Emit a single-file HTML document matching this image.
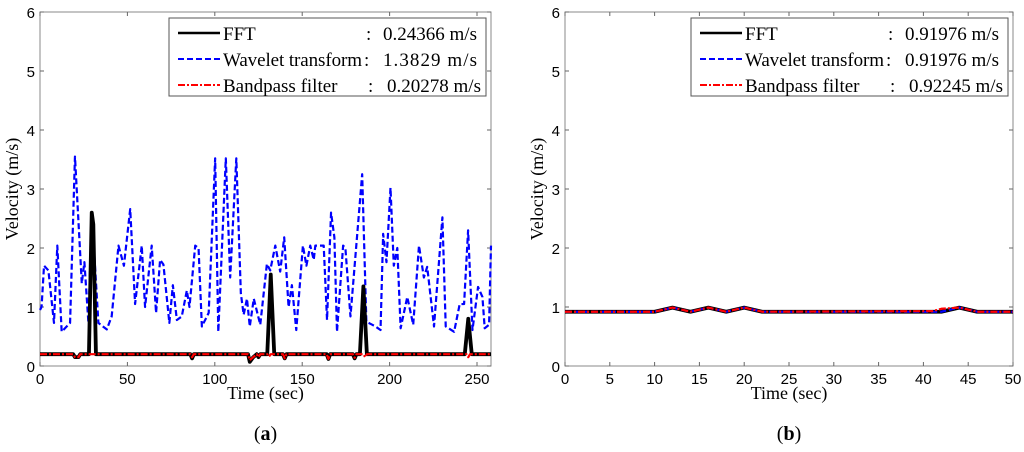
<!DOCTYPE html>
<html><head><meta charset="utf-8"><style>
body{margin:0;background:#fff;width:1024px;height:447px;overflow:hidden}
svg text{font-family:"Liberation Sans",sans-serif}
.serif{font-family:"Liberation Serif",serif}
</style></head><body>
<svg id="svg" width="1024" height="447"></svg>
<script>
const aWaveT=[0,0.9,2.3,4.8,8,9.9,12.4,17.2,20,23.9,25.4,27.7,29.6,31.5,33.4,38.2,41,44.9,48,51.6,54.4,58.2,60.1,63.9,66.4,68.7,70.6,74,76,78.3,81.1,84,85.5,88.8,90.7,92.6,96.5,100.2,102,106.3,108.8,112.3,114.9,116.5,118.4,120,122.3,126,129.8,131.7,134.6,137.4,139.7,142.2,144.1,146.6,150.4,152.4,154.6,156.6,157.5,162.3,164.2,166.5,168.4,169.9,173.4,174.7,177.6,184.3,186.7,190,191.9,194.8,196.3,198.2,200.5,202.4,204.4,206.3,210.1,213.5,216.8,219.6,221.5,225.4,230.2,232.1,236.9,240.1,242.6,244.9,247.4,250.6,253.1,254.4,256.9,258];
const aWaveV=[0.95,1.0,1.7,1.62,0.73,2.04,0.58,0.73,3.55,1.4,1.76,0.73,2.6,1.68,0.73,0.62,0.84,2.04,1.7,2.66,1.05,2.04,1.0,2.04,0.9,1.8,1.72,0.73,1.37,0.78,0.84,1.28,1.0,2.04,2.0,0.67,0.9,3.52,0.58,3.52,1.5,3.52,1.23,0.87,1.14,0.67,1.14,0.7,1.73,1.62,2.04,1.6,2.18,1.0,1.37,0.61,2.04,1.7,2.04,1.8,2.04,2.04,0.78,2.6,2.18,0.58,2.04,2.0,0.84,3.25,0.75,0.7,0.67,0.61,2.24,1.76,3.02,1.7,2.0,0.64,1.17,0.7,2.04,1.5,1.68,0.67,2.52,0.67,0.58,1.05,1.05,2.3,0.61,1.34,1.17,0.64,0.7,2.04];
const aFftT=[0,19,20,22,23,28,29.6,30.5,32,86,87,88,119,120,122,124,125,126,130,132,134,139,140,141,164,165,166,179,180,181,183,185,187,243,245,247,258];
const aFftV=[0.2,0.2,0.15,0.15,0.2,0.2,2.6,2.4,0.2,0.2,0.13,0.2,0.2,0.07,0.15,0.2,0.15,0.2,0.2,1.55,0.2,0.2,0.13,0.2,0.2,0.12,0.2,0.2,0.13,0.2,0.2,1.35,0.2,0.2,0.8,0.2,0.2];
const aBpT=[0,19,20,22,23,86,87,88,119,120,122,124,125,126,130,131,132,139,140,141,164,165,166,179,180,181,185,186,187,244,245,246,258];
const aBpV=[0.2,0.2,0.15,0.15,0.2,0.2,0.15,0.2,0.2,0.1,0.15,0.2,0.15,0.2,0.2,0.16,0.2,0.2,0.13,0.2,0.2,0.12,0.2,0.2,0.14,0.2,0.2,0.15,0.2,0.2,0.15,0.2,0.2];
const bT=[0,10,12,14,16,18,20,22,41,42,44,46,50];
const bFftV=[0.92,0.92,0.99,0.92,0.99,0.92,0.99,0.92,0.92,0.92,0.99,0.92,0.92];
const bWaveV=[0.92,0.92,0.99,0.92,0.99,0.92,0.99,0.92,0.92,0.92,0.99,0.92,0.92];
const bBpV=[0.92,0.92,0.99,0.92,0.99,0.92,0.99,0.92,0.93,0.97,0.99,0.92,0.92];
const yTicks=[0,1,2,3,4,5,6];
const aXTicks=[0,50,100,150,200,250];
const bXTicks=[0,5,10,15,20,25,30,35,40,45,50];
const legA=[["FFT","0.24366 m/s"],["Wavelet transform","1.3829 m/s"],["Bandpass filter","0.20278 m/s"]];
const legB=[["FFT","0.91976 m/s"],["Wavelet transform","0.91976 m/s"],["Bandpass filter","0.92245 m/s"]];
const NS="http://www.w3.org/2000/svg";const svg=document.getElementById('svg');
function el(t,a,p){const e=document.createElementNS(NS,t);for(const k in a)e.setAttribute(k,a[k]);(p||svg).appendChild(e);return e;}
const styles=[{stroke:"#000","stroke-width":3.8},{stroke:"#0000ff","stroke-width":2.2,"stroke-dasharray":"6,3"},{stroke:"#ff0000","stroke-width":2.2,"stroke-dasharray":"7,2,2,2"}];
function panel(name,x0,x1,xmax,xt,series,leg,letter){
 const top=12,bot=366;
 const X=v=>x0+(x1-x0)*v/xmax, Y=v=>bot-(bot-top)*v/6;
 const g=el('g',{});
 const r=el('rect',{x:x0,y:top,width:x1-x0,height:bot-top,fill:'#fff',stroke:'#888','stroke-width':1},g);
 
 yTicks.forEach(v=>{el('line',{x1:x0,x2:x0+4,y1:Y(v),y2:Y(v),stroke:'#666'},g);el('line',{x1:x1,x2:x1-4,y1:Y(v),y2:Y(v),stroke:'#666'},g);
  const t=el('text',{x:x0-5,y:Y(v)+6,'text-anchor':'end','font-size':15},g);t.textContent=v;});
 xt.forEach(v=>{el('line',{x1:X(v),x2:X(v),y1:bot,y2:bot-4,stroke:'#666'},g);el('line',{x1:X(v),x2:X(v),y1:top,y2:top+4,stroke:'#666'},g);
  const t=el('text',{x:X(v),y:bot+18,'text-anchor':'middle','font-size':15},g);t.textContent=v;});
 series.forEach((s,i)=>{const p=el('polyline',Object.assign({points:s.t.map((t,j)=>X(t)+','+Y(s.v[j])).join(' '),fill:'none','stroke-linejoin':'round'},styles[s.st]),g);
  });
 const lx=x1-322;const lb=el('rect',{x:lx,y:18,width:317,height:78,fill:'#fff',stroke:'#555'},g);
 
 const colX=[197,195,199], valX=[214,214,218], nameW=[null,139,null];
 leg.forEach((l,i)=>{const yy=33+i*26;el('line',Object.assign({x1:lx+9,x2:lx+51,y1:yy,y2:yy},styles[i],{"stroke-width":i==0?2.5:2}),g);
  const ta={x:lx+54,y:yy+7,'font-size':19,class:'serif'};if(nameW[i])ta.textLength=nameW[i];
  const t=el('text',ta,g);t.textContent=l[0];
  const c=el('text',{x:lx+colX[i],y:yy+7,'font-size':19,class:'serif'},g);c.textContent=':';
  const v=el('text',{x:lx+valX[i],y:yy+7,'font-size':19,class:'serif',textLength:94},g);v.textContent=l[1];});
 const yl=el('text',{x:0,y:0,'font-size':18,class:'serif','text-anchor':'middle',transform:`translate(${x0-22},${(top+bot)/2}) rotate(-90)`},g);yl.textContent='Velocity (m/s)';
 const xl=el('text',{x:(x0+x1)/2,y:399,'font-size':18,class:'serif','text-anchor':'middle'},g);xl.textContent='Time (sec)';
 const pl=el('text',{x:(x0+x1)/2,y:440,'font-size':20,class:'serif','text-anchor':'middle'},g);pl.innerHTML='(<tspan font-weight="bold">'+letter+'</tspan>)';
}
panel('a',40,491,258,aXTicks,[{t:aWaveT,v:aWaveV,st:1,name:'wavelet-line'},{t:aFftT,v:aFftV,st:0,name:'fft-line'},{t:aBpT,v:aBpV,st:2,name:'bandpass-line'}],legA,'a');
panel('b',565,1013,50,bXTicks,[{t:bT,v:bFftV,st:0,name:'fft-line'},{t:bT,v:bWaveV,st:1,name:'wavelet-line'},{t:bT,v:bBpV,st:2,name:'bandpass-line'}],legB,'b');
</script></body></html>
